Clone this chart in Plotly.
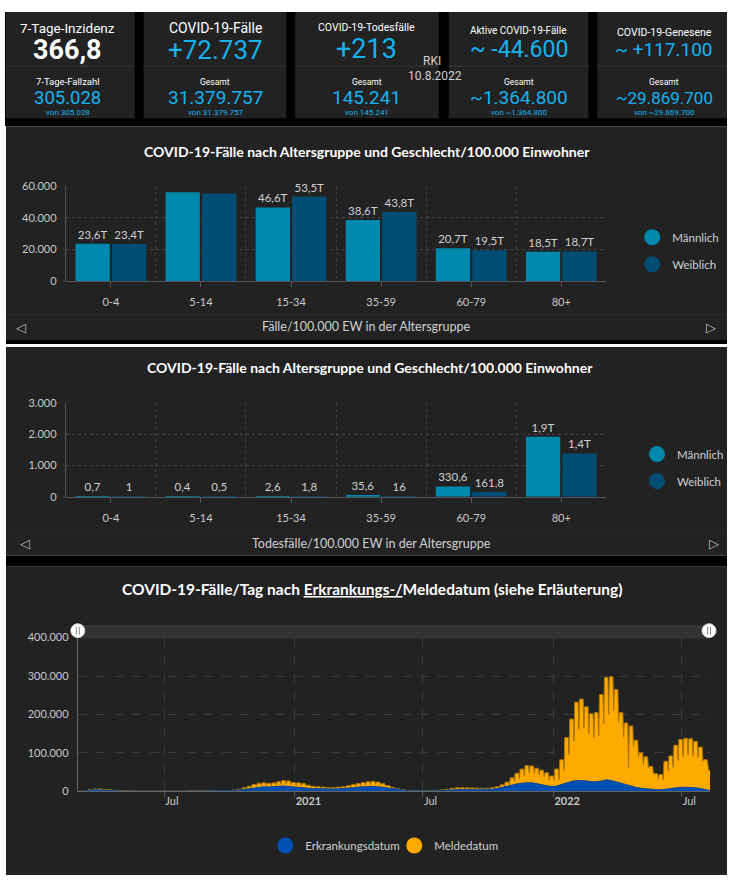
import plotly.graph_objects as go
import pandas as pd

W, H = 729, 884


def px(x):
    return x / W


def py(y):
    return 1 - y / H


# ---------------- DATA ----------------
kpi_titles = ["7-Tage-Inzidenz", "COVID-19-Fälle", "COVID-19-Todesfälle",
              "Aktive COVID-19-Fälle", "COVID-19-Genesene"]
kpi_main = ["366,8", "+72.737", "+213", "~ -44.600", "~ +117.100"]
kpi_sub_titles = ["7-Tage-Fallzahl", "Gesamt", "Gesamt", "Gesamt", "Gesamt"]
kpi_sub = ["305.028", "31.379.757", "145.241", "~1.364.800", "~29.869.700"]
kpi_von = ["von 305.028", "von 31.379.757", "von 145.241", "von ~1.364.800",
           "von ~29.869.700"]
source_text = ["RKI", "10.8.2022"]

age_groups = ["0-4", "5-14", "15-34", "35-59", "60-79", "80+"]
cases_m = [23600, 56200, 46600, 38600, 20700, 18500]
cases_w = [23400, 55400, 53500, 43800, 19500, 18700]
deaths_m = [0.7, 0.4, 2.6, 35.6, 330.6, 1925]
deaths_w = [1, 0.5, 1.8, 16, 161.8, 1385]
cases_ticks = [0, 20000, 40000, 60000]
deaths_ticks = [0, 1000, 2000, 3000]

# weekly series (week starting Mondays from 2020-03-02)
mel_high = [
    150, 1200, 4500, 6000, 6200, 5200, 3800, 2600, 1700, 1200,
    900, 800, 700, 600, 550, 600, 650, 600, 550, 600,
    700, 900, 1100, 1300, 1500, 1500, 1500, 1600, 1900, 2200,
    2500, 3500, 5500, 9000, 13000, 18000, 21000, 22000, 21000, 22000,
    25000, 28000, 27000, 23000, 22000, 20000, 16000, 13000, 12000, 11000,
    10000, 10000, 11000, 12000, 15000, 18000, 20000, 23000, 25000, 26000,
    24000, 20000, 15000, 10000, 6500, 4000, 2500, 1500, 1000, 900,
    1000, 1500, 2500, 4000, 6000, 8000, 9000, 9500, 9000, 9000,
    8500, 8000, 8000, 9500, 12000, 17000, 24000, 35000, 47000, 58000,
    67000, 66000, 60000, 55000, 48000, 40000, 58000, 82000, 140000, 188000,
    232000, 240000, 220000, 202000, 205000, 252000, 296000, 298000, 265000, 205000,
    178000, 170000, 133000, 100000, 90000, 65000, 46000, 44000, 78000, 92000,
    120000, 135000, 138000, 137000, 130000, 115000, 82000, 55000,
]
mel_low = [
    100, 800, 3000, 4000, 4200, 3500, 2600, 1800, 1200, 800,
    600, 550, 500, 400, 400, 400, 450, 400, 400, 400,
    500, 600, 800, 900, 1000, 1000, 1000, 1100, 1300, 1500,
    1700, 2400, 3800, 6300, 9000, 12500, 14500, 15500, 14500, 15500,
    17500, 19500, 17000, 15000, 15000, 14000, 11000, 9000, 8500, 7500,
    7000, 7000, 7500, 8500, 10500, 12500, 14000, 16000, 17500, 18000,
    16500, 14000, 10500, 7000, 4500, 2800, 1700, 1000, 700, 600,
    700, 1000, 1700, 2800, 4200, 5500, 6300, 6600, 6300, 6300,
    6000, 5600, 5600, 6600, 8400, 12000, 17000, 24000, 33000, 40000,
    47000, 46000, 42000, 38000, 30000, 28000, 30000, 55000, 95000, 130000,
    160000, 165000, 150000, 140000, 145000, 175000, 200000, 210000, 180000, 140000,
    60000, 115000, 90000, 70000, 60000, 45000, 32000, 30000, 52000, 62000,
    80000, 90000, 95000, 92000, 88000, 78000, 55000, 38000,
]
erk = [
    200, 2000, 3800, 4200, 3500, 2500, 1800, 1200, 800, 600,
    450, 400, 350, 300, 300, 350, 350, 300, 300, 350,
    400, 500, 600, 700, 800, 800, 800, 900, 1000, 1200,
    1400, 2000, 3200, 5000, 7500, 10000, 11500, 12000, 11500, 12000,
    13000, 14000, 12500, 11000, 10000, 9000, 8000, 7000, 6500, 6000,
    5800, 6000, 6500, 7000, 8000, 9500, 11000, 12000, 12500, 13000,
    12000, 10000, 8000, 6000, 4000, 2500, 1500, 900, 600, 500,
    600, 900, 1500, 2500, 3500, 4300, 4800, 5000, 5000, 5000,
    4600, 4400, 4500, 5500, 7500, 10000, 13000, 16500, 19500, 21500,
    22500, 22000, 20000, 18000, 16000, 12000, 14000, 18000, 23000, 26000,
    28000, 28000, 27000, 25000, 25000, 27000, 30000, 28000, 24000, 20000,
    16000, 13000, 10000, 8000, 6500, 5000, 4000, 4000, 6000, 8000,
    9500, 10500, 10500, 10000, 9000, 7000, 4500, 1500,
]
week_start = "2020-03-02"
ts_ticks = ["2020-07-01", "2021-01-01", "2021-07-01", "2022-01-01", "2022-07-01"]
ts_ticktext = ["Jul", "<b>2021</b>", "Jul", "<b>2022</b>", "Jul"]
ts_range = ["2020-03-01", "2022-08-10"]
ts_yticks = [0, 100000, 200000, 300000, 400000]

# ---------------- STYLE ----------------
CF = "Lato, 'Open Sans', sans-serif"
KF = "Roboto, 'Noto Sans', sans-serif"
C_M = "#0088ae"
C_W = "#024d74"
C_ERK = "#0050b4"
C_MEL = "#ffaa00"
CYAN = "#16b2ef"
PANEL = "#222222"
TXT = "#d0d0d0"


def fmt(v):
    if v >= 1000:
        return f"{v / 1000:.1f}".replace(".", ",") + "T"
    s = f"{v:.1f}"
    if s.endswith(".0"):
        s = s[:-2]
    return s.replace(".", ",")


def labels(vals, axmax):
    return [fmt(v) if v <= 0.9 * axmax else "" for v in vals]


weeks = pd.date_range(week_start, periods=len(mel_high), freq="7D")
mx, my = [], []
for d, hi, lo in zip(weeks, mel_high, mel_low):
    mx += [d, d + pd.Timedelta(days=5), d + pd.Timedelta(days=6)]
    my += [hi, hi, lo]
ex = [d + pd.Timedelta(days=3) for d in weeks]

fig = go.Figure()

bar_common = dict(textposition="outside", cliponaxis=False, constraintext="none",
                  showlegend=False, textfont=dict(color=TXT, size=11.5, family=CF))
xs = list(range(len(age_groups)))
fig.add_trace(go.Bar(x=xs, y=cases_m, name="Männlich", marker=dict(color=C_M, line=dict(width=0)),
                     text=labels(cases_m, cases_ticks[-1]), xaxis="x", yaxis="y",
                     offsetgroup="m", **bar_common))
fig.add_trace(go.Bar(x=xs, y=cases_w, name="Weiblich", marker=dict(color=C_W, line=dict(width=0)),
                     text=labels(cases_w, cases_ticks[-1]), xaxis="x", yaxis="y",
                     offsetgroup="w", **bar_common))
fig.add_trace(go.Bar(x=xs, y=deaths_m, name="Männlich", marker=dict(color=C_M, line=dict(width=0)),
                     text=labels(deaths_m, deaths_ticks[-1]), xaxis="x2", yaxis="y2",
                     offsetgroup="m", **bar_common))
fig.add_trace(go.Bar(x=xs, y=deaths_w, name="Weiblich", marker=dict(color=C_W, line=dict(width=0)),
                     text=labels(deaths_w, deaths_ticks[-1]), xaxis="x2", yaxis="y2",
                     offsetgroup="w", **bar_common))
# chart 3 areas
fig.add_trace(go.Scatter(x=mx, y=my, mode="lines", fill="tozeroy", name="Meldedatum",
                         line=dict(color="#a87400", width=1), fillcolor=C_MEL,
                         showlegend=False, xaxis="x3", yaxis="y3"))
fig.add_trace(go.Scatter(x=ex, y=erk, mode="lines", fill="tozeroy", name="Erkrankungsdatum",
                         line=dict(color="#0a4595", width=1), fillcolor=C_ERK,
                         showlegend=False, xaxis="x3", yaxis="y3"))

# legend entries (circle symbols)
for lg, ax, ay in [("legend", "x", "y"), ("legend2", "x2", "y2")]:
    fig.add_trace(go.Scatter(x=[None], y=[None], mode="markers", name="Männlich",
                             marker=dict(color=C_M, size=16), legend=lg,
                             legendgroup=lg + "m", xaxis=ax, yaxis=ay))
    fig.add_trace(go.Scatter(x=[None], y=[None], mode="markers", name="Weiblich",
                             marker=dict(color=C_W, size=16), legend=lg,
                             legendgroup=lg + "w", xaxis=ax, yaxis=ay))
fig.add_trace(go.Scatter(x=[None], y=[None], mode="markers", name="Erkrankungsdatum",
                         marker=dict(color=C_ERK, size=16), legend="legend3",
                         xaxis="x3", yaxis="y3"))
fig.add_trace(go.Scatter(x=[None], y=[None], mode="markers", name="Meldedatum",
                         marker=dict(color=C_MEL, size=16), legend="legend3",
                         xaxis="x3", yaxis="y3"))

# ---------------- SHAPES ----------------
shapes = []


def rect(x0, y0, x1, y1, color, layer="below"):
    shapes.append(dict(type="rect", xref="paper", yref="paper", x0=px(x0), x1=px(x1),
                       y0=py(y1), y1=py(y0), fillcolor=color, line=dict(width=0),
                       layer=layer))


def hline(x0, x1, y, color, w=1, layer="below"):
    shapes.append(dict(type="line", xref="paper", yref="paper", x0=px(x0), x1=px(x1),
                       y0=py(y), y1=py(y), line=dict(color=color, width=w), layer=layer))


rect(5, 5, 729, 121, "#000000")
card_x = [(6, 135), (144, 287), (296, 440), (450, 590), (599, 729)]
for x0, x1 in card_x:
    rect(x0, 5, x1, 113, PANEL)
    hline(x0, x1, 60, "#3a3a3a")
rect(6, 121, 729, 338, PANEL)
rect(6, 338, 729, 342, "#000000")
rect(6, 345, 729, 557, PANEL)
rect(6, 557, 729, 568, "#000000")
rect(6, 568, 729, 881, PANEL)
hline(6, 729, 312, "#2b2b2b")
hline(10, 729, 531, "#2b2b2b")

# slider
rect(78, 627, 712, 641, "#333333")
for hx in (78, 711):
    shapes.append(dict(type="circle", xref="paper", yref="paper", x0=px(hx - 7), x1=px(hx + 7),
                       y0=py(640), y1=py(626), fillcolor="#ffffff",
                       line=dict(color="#dddddd", width=1), layer="above"))
    for dx in (-1.5, 1.5):
        shapes.append(dict(type="line", xref="paper", yref="paper", x0=px(hx + dx), x1=px(hx + dx),
                           y0=py(637), y1=py(629), line=dict(color="#888888", width=1),
                           layer="above"))

# ---------------- ANNOTATIONS ----------------
ann = []


def txt(x, y, s, size, color="#ffffff", family=KF, xanchor="center"):
    ann.append(dict(x=px(x), y=py(y), xref="paper", yref="paper", text=s, showarrow=False,
                    font=dict(size=size, color=color, family=family), xanchor=xanchor,
                    yanchor="middle"))


card_cx = [68, 216, 368, 520, 666]
title_y = [21, 21, 21, 24, 26]
title_sz = [13.5, 14, 10.5, 10, 10.5]
main_sz = [27, 26, 27, 23, 19]
main_y = [44, 44, 43, 43, 43]
sub_sz = [18.5, 19, 19, 19, 17]
for i in range(5):
    txt(card_cx[i], title_y[i], kpi_titles[i], title_sz[i])
    main = f"<b>{kpi_main[i]}</b>" if i == 0 else kpi_main[i]
    txt(card_cx[i], main_y[i], main, main_sz[i], "#ffffff" if i == 0 else CYAN)
    txt(card_cx[i], 76, kpi_sub_titles[i], 8.5 if i else 9.5)
    txt(card_cx[i], 92, kpi_sub[i], sub_sz[i], CYAN)
    txt(card_cx[i], 107, kpi_von[i], 8, CYAN)
txt(433, 55, source_text[0], 12, "#cfcfcf")
txt(436, 70, source_text[1], 12, "#cfcfcf")

title12 = "<b>COVID-19-Fälle nach Altersgruppe und Geschlecht/100.000 Einwohner</b>"
txt(368, 147, title12, 14, "#ffffff", CF)
txt(371, 366, title12, 14, "#ffffff", CF)
txt(368, 324, "Fälle/100.000 EW in der Altersgruppe", 12.5, TXT, CF)
txt(373, 544, "Todesfälle/100.000 EW in der Altersgruppe", 12.5, TXT, CF)
for (xl, xr, yy) in [(21, 713, 325), (25, 716, 545)]:
    txt(xl, yy, "◁", 13, "#bbbbbb", "DejaVu Sans")
    txt(xr, yy, "▷", 13, "#bbbbbb", "DejaVu Sans")
txt(373, 591, "<b>COVID-19-Fälle/Tag nach <u>Erkrankungs-/</u>Meldedatum (siehe Erläuterung)</b>",
    15.5, "#ffffff", CF)

# ---------------- AXES ----------------
tickfont = dict(color="#c8c8c8", size=11, family=CF)
grid = "#444444"
ncat = len(age_groups)


def cat_axis(domain, anchor):
    return dict(domain=domain, anchor=anchor, range=[-0.5, ncat - 0.5],
                tickmode="array", tickvals=list(range(ncat)), ticktext=age_groups,
                ticks="outside", ticklen=5, tickcolor="#555555", showline=True,
                linecolor="#555555", showgrid=False, zeroline=False, tickfont=tickfont,
                ticklabelstandoff=6, fixedrange=True,
                minor=dict(tickmode="array", tickvals=[i + 0.5 for i in range(ncat)],
                           showgrid=True, gridcolor="#3a3a3a", griddash="dot", ticks=""))


def val_axis(domain, anchor, ticks):
    return dict(domain=domain, anchor=anchor, range=[ticks[0], ticks[-1]], tickmode="array",
                tickvals=ticks, tickformat=",", showgrid=True, gridcolor=grid, griddash="dot",
                showline=True, linecolor="#555555", zeroline=False, tickfont=tickfont,
                ticklabelstandoff=6, fixedrange=True)


fig.update_layout(
    width=W, height=H, margin=dict(l=0, r=0, t=0, b=0),
    paper_bgcolor="#ffffff", plot_bgcolor="rgba(0,0,0,0)",
    separators=",.", barmode="group", bargap=0.19, bargroupgap=0.06,
    font=dict(family=CF, color=TXT),
    xaxis=cat_axis([px(66), px(608)], "y"),
    yaxis=val_axis([py(278), py(182)], "x", cases_ticks),
    xaxis2=cat_axis([px(66), px(608)], "y2"),
    yaxis2=val_axis([py(497), py(402)], "x2", deaths_ticks),
    xaxis3=dict(domain=[px(78), px(712)], anchor="y3", type="date", range=ts_range,
                tickmode="array", tickvals=ts_ticks, ticktext=ts_ticktext,
                ticklabelposition="outside right", ticks="outside", ticklen=5,
                tickcolor="#555555", showgrid=True, gridcolor="#3a3a3a", griddash="dash",
                showline=True, linecolor="#666666", zeroline=False, tickfont=tickfont),
    yaxis3=dict(domain=[py(796), py(640)], anchor="x3", range=[0, ts_yticks[-1]],
                tickmode="array", tickvals=ts_yticks, tickformat=",", showgrid=True,
                gridcolor="#3a3a3a", griddash="dash", showline=True, linecolor="#666666",
                zeroline=False, tickfont=tickfont, ticklabelstandoff=6),
    legend=dict(x=px(634), y=py(219), xanchor="left", yanchor="top",
                bgcolor="rgba(0,0,0,0)", font=dict(color=TXT, size=11.5, family=CF),
                tracegroupgap=8),
    legend2=dict(x=px(639), y=py(439), xanchor="left", yanchor="top",
                 bgcolor="rgba(0,0,0,0)", font=dict(color=TXT, size=11.5, family=CF),
                 tracegroupgap=8),
    legend3=dict(x=px(266), y=py(851), xanchor="left", yanchor="middle", orientation="h",
                 entrywidth=84, entrywidthmode="pixels",
                 bgcolor="rgba(0,0,0,0)", font=dict(color=TXT, size=11.5, family=CF)),
    shapes=shapes, annotations=ann, showlegend=True, hovermode=False,
)

post = (
    "var s='margin:0;padding:0;overflow:hidden;width:729px;height:884px;';"
    "document.documentElement.style.cssText=s;document.body.style.cssText=s;"
    "var g=document.getElementById('{plot_id}');"
    "g.style.position='absolute';g.style.left='0px';g.style.top='0px';"
)
fig.write_html("out.html", config={"displayModeBar": False}, post_script=post)
